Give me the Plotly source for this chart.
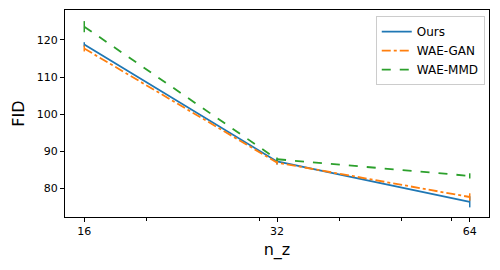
import math
import plotly.graph_objects as go

n_z = [16, 32, 64]
ours = [118.8, 87.2, 76.3]
ours_err = [0.6, 0.8, 1.5]
wae_gan = [117.7, 86.9, 77.6]
wae_gan_err = [0.8, 0.5, 1.0]
wae_mmd = [123.6, 87.8, 83.3]
wae_mmd_err = [1.5, 0.5, 0.7]

series = [
    ("Ours", ours, ours_err, "#1f77b4", "solid"),
    ("WAE-GAN", wae_gan, wae_gan_err, "#ff7f0e", "dashdot"),
    ("WAE-MMD", wae_mmd, wae_mmd_err, "#2ca02c", "dash"),
]

fig = go.Figure()
for name, vals, errs, color, dash in series:
    fig.add_trace(go.Scatter(
        x=n_z, y=vals, name=name, mode="lines",
        line=dict(color=color, width=1.8, dash=dash),
        error_y=dict(type="data", array=errs, visible=True,
                     color=color, thickness=1.5, width=0),
    ))

pad = 0.1 * math.log10(2)
font = "DejaVu Sans, sans-serif"
fig.update_layout(
    width=500, height=270,
    margin=dict(l=65, r=11, t=10, b=53),
    paper_bgcolor="white", plot_bgcolor="white",
    font=dict(family=font, size=11, color="black"),
    showlegend=True,
    legend=dict(x=0.99, y=0.97, xanchor="right", yanchor="top",
                bgcolor="rgba(255,255,255,0.8)", bordercolor="#cccccc",
                borderwidth=1, font=dict(size=12, family=font),
                tracegroupgap=0),
    xaxis=dict(
        type="log", automargin=False,
        range=[math.log10(16) - pad, math.log10(64) + pad],
        tickvals=n_z, ticktext=[str(v) for v in n_z],
        ticks="outside", ticklen=4, tickcolor="black", tickwidth=1,
        showline=True, linecolor="black", linewidth=1, mirror=True,
        showgrid=False, zeroline=False,
        minor=dict(tickvals=[20, 30, 40, 50, 60], ticks="outside",
                   ticklen=2.5, tickcolor="black", tickwidth=1, showgrid=False),
        title=dict(text="n_z", font=dict(size=16, family=font), standoff=6),
        tickfont=dict(size=11),
    ),
    yaxis=dict(
        range=[72.2, 128.1], automargin=False,
        tickvals=[80, 90, 100, 110, 120],
        ticks="outside", ticklen=4, tickcolor="black", tickwidth=1,
        showline=True, linecolor="black", linewidth=1, mirror=True,
        showgrid=False, zeroline=False,
        title=dict(text="FID", font=dict(size=16, family=font), standoff=8),
        tickfont=dict(size=11),
    ),
)

fig.write_html("out.html", config={"displayModeBar": False},
               post_script="document.body.style.margin='0';document.body.style.overflow='hidden';")
